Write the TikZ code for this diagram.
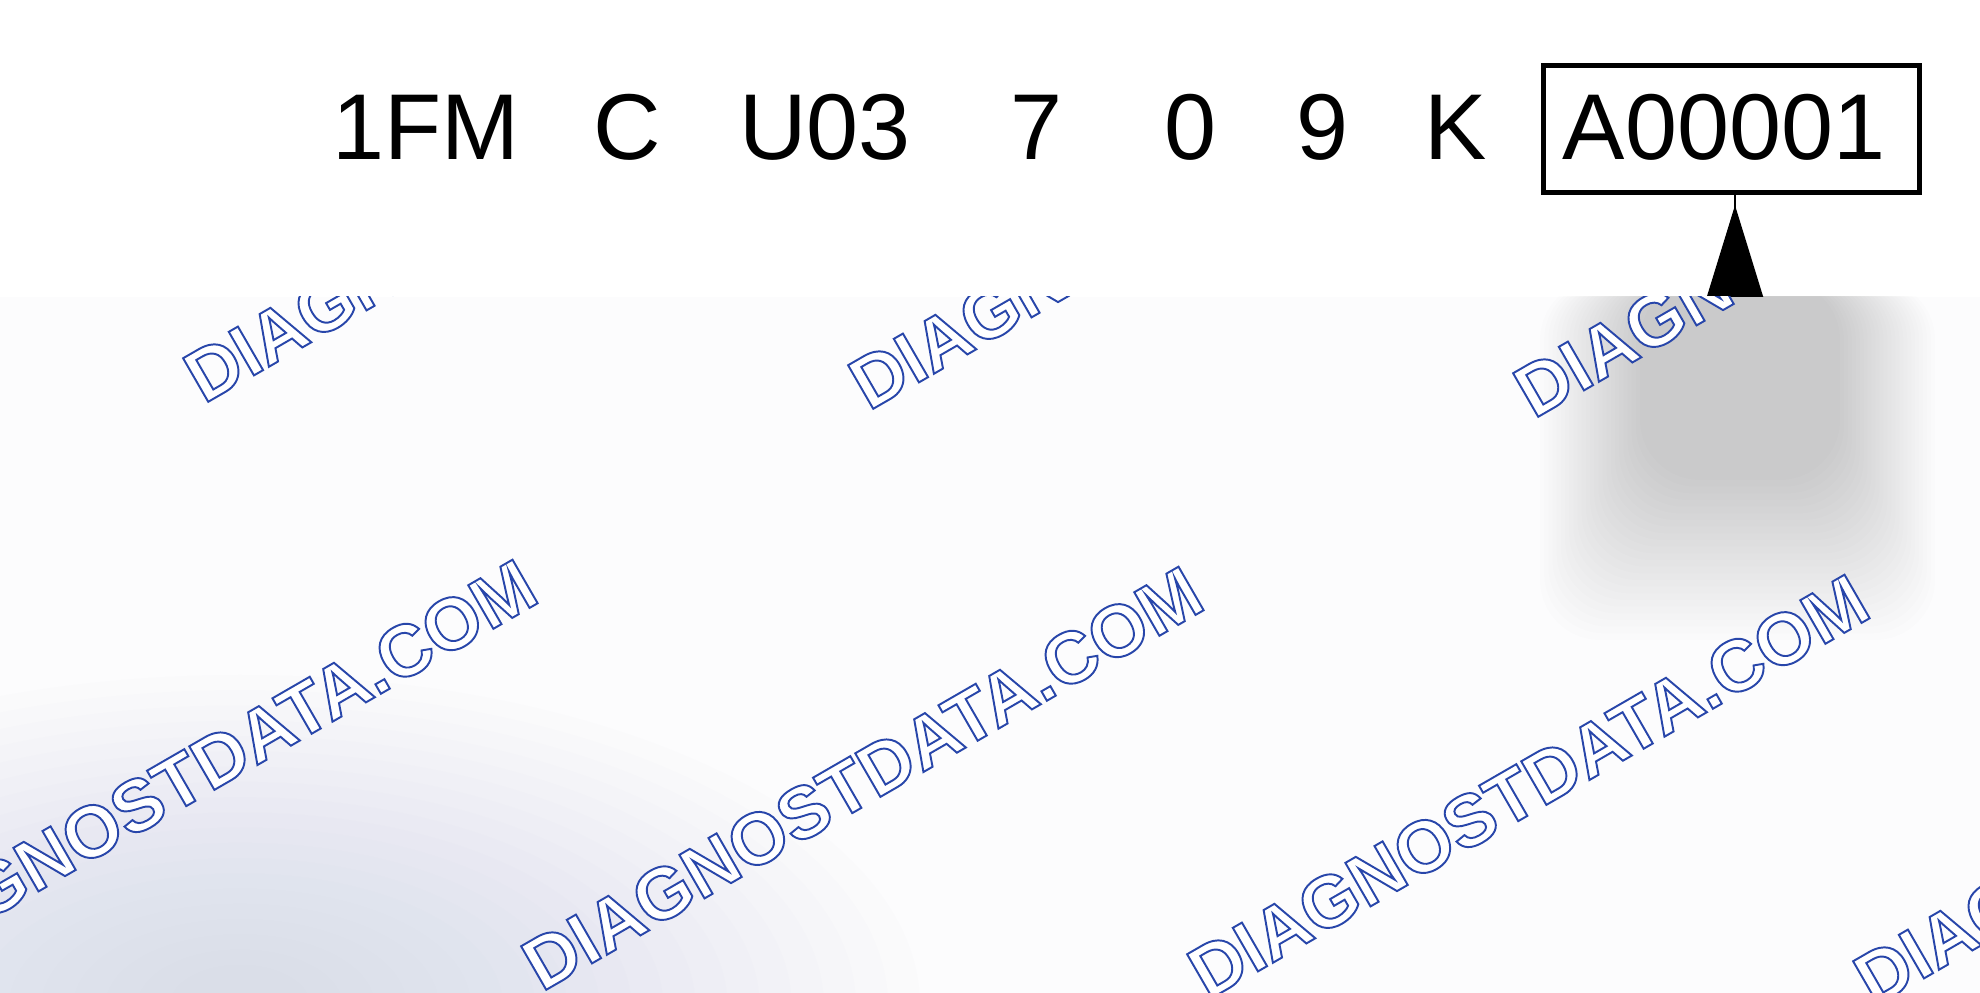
\documentclass[tikz,border=0pt]{standalone}
\usepackage{fontspec}
\setmainfont{Liberation Sans}
\usetikzlibrary{arrows.meta}
\definecolor{lowbg}{RGB}{252,252,253}
\definecolor{tintblue}{RGB}{197,204,223}
\newcommand\wmoutline[1]{\special{pdf:literal direct 2 Tr 0.55 w 1 1 1 rg 0.157 0.275 0.667 RG}#1\special{pdf:literal direct 0 Tr}}
\tikzset{
  vin/.style={anchor=base, inner sep=0pt, font=\fontsize{26.6pt}{30pt}\selectfont},
  serialbox/.style={draw=black, line width=0.55mm, minimum width=37.6mm, minimum height=12.7mm, inner sep=0pt},
  pointer/.style={line width=0.15mm, draw=black},
  wm/.style={anchor=base west, rotate=30, inner sep=0pt, font=\fontsize{20.8pt}{24pt}\selectfont\bfseries},
}
\begin{document}
\begin{tikzpicture}[x=0.1mm, y=-0.1mm]
\useasboundingbox (0,0) rectangle (1980,993);
\fill[white] (0,0) rectangle (1980,993);
% VIN line
\node[vin] (wmi) at (426,160) {1FM};
\node[vin] (line) at (627,160) {C};
\node[vin] (attr) at (825,160) {U03};
\node[vin] (check) at (1036,160) {7};
\node[vin] (year) at (1190,160) {0};
\node[vin] (yearb) at (1322,160) {9};
\node[vin] (plant) at (1456,160) {K};
\node[serialbox] (box) at (1731.5,129) {};
\node[vin] (serial) at (1724,160) {A00001};
\coordinate (foot) at (1735,440);
\draw[pointer] (foot) -- (foot |- box.south);
\draw[pointer, -{Triangle[length=15mm, width=9.2mm]}, shorten >=1mm] (foot) -- (foot |- box.south);
% lower overlay
\begin{scope}
\clip (0,297) rectangle (1980,993);
\fill[lowbg] (0,297) rectangle (1980,993);
\foreach \i in {0,...,24}{
  \pgfmathsetmacro\t{\i/24}
  \fill[black, opacity=0.0078, rounded corners=6mm] ({1540+100*\t},280) rectangle ({1935-95*\t},{640-160*\t});
}
\foreach \i in {0,...,19}{
  \pgfmathsetmacro\t{\i/19}
  \pgfmathsetmacro\rx{68-61*\t}
  \pgfmathsetmacro\ry{33-29*\t}
  \fill[tintblue, opacity=0.035] (240,1005) ellipse ({\rx mm} and {\ry mm});
}
\node[wm] (wa1) at (203.4,404.6) {\wmoutline{DIAGNOSTDATA.COM}};
\node[wm] (wa2) at (868.4,411.6) {\wmoutline{DIAGNOSTDATA.COM}};
\node[wm] (wa3) at (1533.4,419.6) {\wmoutline{DIAGNOSTDATA.COM}};
\node[wm] (wb1) at (-124.6,985.6) {\wmoutline{DIAGNOSTDATA.COM}};
\node[wm] (wb2) at (541.4,992.6) {\wmoutline{DIAGNOSTDATA.COM}};
\node[wm] (wb3) at (1207.4,1000.6) {\wmoutline{DIAGNOSTDATA.COM}};
\node[wm] (wb4) at (1873.4,1007.6) {\wmoutline{DIAGNOSTDATA.COM}};
\end{scope}
\end{tikzpicture}
\end{document}
